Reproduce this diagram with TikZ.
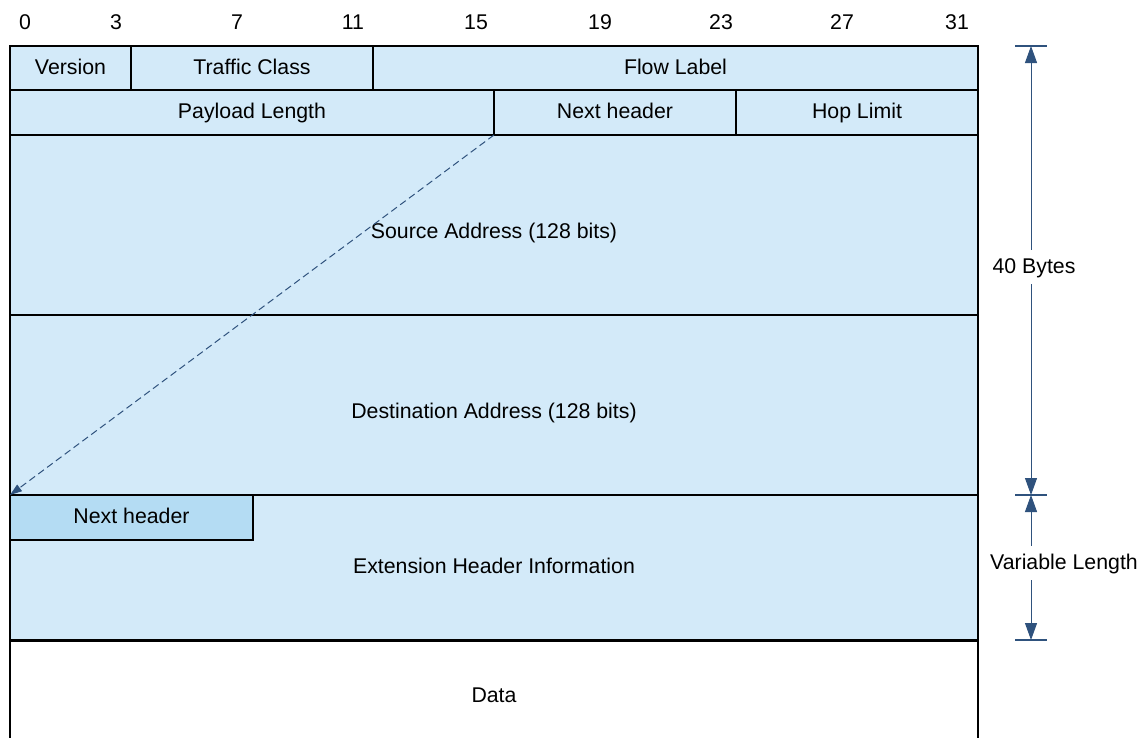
\documentclass[tikz,border=0pt]{standalone}
\usepackage{fontspec}
\setmainfont{Liberation Sans}
\usetikzlibrary{arrows.meta}
\definecolor{fieldblue}{RGB}{211,234,249}
\definecolor{nhblue}{RGB}{180,220,243}
\definecolor{dimblue}{RGB}{47,82,125}
\begin{document}
\begin{tikzpicture}[x=1pt,y=-1pt,
  font=\fontsize{21.3}{25}\selectfont,
  fieldtext/.style={text height=17pt, text depth=4.3pt},
  field/.style n args={2}{draw=black, line width=2.2pt, fill=fieldblue,
    inner sep=0pt, outer sep=0pt, minimum width=#1, minimum height=#2, fieldtext},
  bitlabel/.style={inner sep=0pt, fieldtext},
  dimline/.style={draw=dimblue, line width=1pt,
    {Triangle[width=12pt,length=17pt]}-{Triangle[width=12pt,length=17pt]}},
  dimtick/.style={draw=dimblue, line width=2pt},
  dimlabel/.style={fill=white, inner sep=6pt, fieldtext},
  dasharrow/.style={draw=dimblue, line width=1pt, dash pattern=on 7pt off 4pt,
    -{Triangle[width=8pt,length=12pt]}}]
\clip (0,0) rectangle (1148,737);
\fill[white] (0,0) rectangle (1148,737);
% bit numbers
\foreach \n/\x in {0/25,3/116,7/237,11/353,15/476,19/600,23/721,27/842,31/957}
  \node[bitlabel] (bit\n) at (\x,23) {\n};
% large rows
\node[field={968pt}{180pt}, label={[yshift=-7pt, fieldtext]center:Source Address (128 bits)}] (src) at (494,225) {};
\node[field={968pt}{180pt}, label={[yshift=-7pt, fieldtext]center:Destination Address (128 bits)}] (dst) at (494,405) {};
\node[field={968pt}{145pt}] (ext) at (494,567.5) {Extension Header Information};
\node[field={968pt}{110pt}, fill=white] (data) at (494,696) {Data};
% row 1
\node[field={121pt}{44pt}] (ver) at (70.5,68) {Version};
\node[field={242pt}{44pt}] (tc) at (252,68) {Traffic Class};
\node[field={605pt}{44pt}] (fl) at (675.5,68) {Flow Label};
% row 2
\node[field={484pt}{45pt}] (pl) at (252,112.5) {Payload Length};
\node[field={242pt}{45pt}] (nh) at (615,112.5) {Next header};
\node[field={242pt}{45pt}] (hl) at (857,112.5) {Hop Limit};
% extension next header
\node[field={243pt}{45pt}, fill=nhblue] (enh) at (131.5,517.5) {Next header};
% dashed arrow
\draw[dasharrow] (nh.south west) -- (ext.north west);
% dimensions
\coordinate (d1) at (1031,46);
\coordinate (d2) at (1031,495);
\coordinate (d3) at (1031,640);
\foreach \c in {d1,d2,d3}
  \draw[dimtick] ([xshift=-16pt]\c) -- ([xshift=16pt]\c);
\draw[dimline] (d1) -- (d2);
\draw[dimline] (d2) -- (d3);
\node[dimlabel] (bytes) at (1034,267) {40 Bytes};
\node[dimlabel] (varlen) at (1064,563) {Variable Length};
\end{tikzpicture}
\end{document}
